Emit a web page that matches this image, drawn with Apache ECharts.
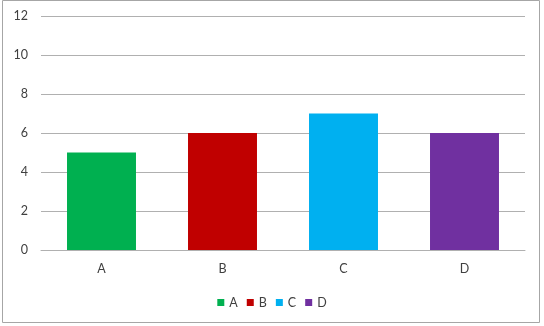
<!DOCTYPE html>
<html><head><meta charset="utf-8">
<script src="https://cdn.jsdelivr.net/npm/echarts@6/dist/echarts.min.js"></script>
<style>html,body{margin:0;padding:0;background:#fff}#c{width:544px;height:326px}</style>
</head><body><div id="c"></div>
<script>
var categories = ['A','B','C','D'];
var values = [5,6,7,6];
var colors = ['#00B050','#C00000','#00B0F0','#7030A0'];
var yTicks = [0,2,4,6,8,10,12];

var chart = echarts.init(document.getElementById('c'));
var series = categories.map(function(name,i){
  return {
    name: name, type: 'bar', stack: 'all',
    data: categories.map(function(c,j){ return j===i ? values[i] : '-'; }),
    itemStyle: {color: colors[i]},
    barWidth: '57%'
  };
});
chart.setOption({
  animation: false,
  textStyle: {fontFamily: 'Lato, "Open Sans", sans-serif'},
  grid: {left: 41, right: 19, top: 16, bottom: 76, containLabel: false},
  graphic: [{type:'rect', shape:{x:2.5,y:0.5,width:537,height:322}, style:{fill:'none', stroke:'#a6a6a6', lineWidth:1}, silent:true}],
  legend: {
    bottom: 12, left: 'center', icon: 'rect', itemWidth: 7, itemHeight: 7, itemGap: 9,
    itemTextGap: 4,
    textStyle: {color:'#404040', fontSize: 12.5, fontFamily: 'Lato, sans-serif'},
    data: categories
  },
  xAxis: {
    type: 'category', data: categories,
    axisLine: {lineStyle:{color:'#b0b0b0'}}, axisTick:{show:false},
    axisLabel: {color:'#404040', fontSize: 12.5, margin: 12}
  },
  yAxis: {
    type: 'value', min: yTicks[0], max: yTicks[yTicks.length-1], interval: 2,
    axisLine:{show:false}, axisTick:{show:false},
    splitLine: {lineStyle:{color:'#b0b0b0'}},
    axisLabel: {color:'#404040', fontSize: 12.5, margin: 13}
  },
  series: series
});
</script></body></html>
